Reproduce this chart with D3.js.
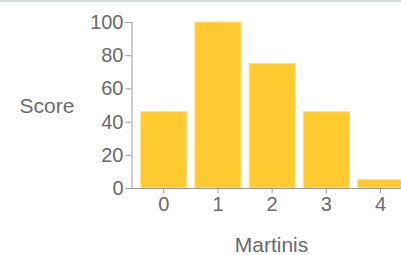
<!DOCTYPE html>
<html>
<head>
  <script src="https://d3js.org/d3.v7.min.js"></script>
  <style>
    body {
      margin: 0;
      background-color: #fff;
    }
    #chart {
      display: block;
      border-top: 2px solid #d3dcdf;
    }
    .axis path, .axis line {
      stroke: #999;
    }
    .axis text {
      fill: #6a6a6a;
      font-size: 20px;
      font-family: "Liberation Sans", Arial, sans-serif;
    }
    .label {
      fill: #6a6a6a;
      font-size: 21px;
      font-family: "Liberation Sans", Arial, sans-serif;
    }
    .bar {
      fill: #ffc930;
      stroke: #ffe083;
      stroke-width: 1;
    }
  </style>
</head>
<body>
  <svg id="chart" width="401" height="253"></svg>
  <script>
    const martinis = ['0', '1', '2', '3', '4'];
    const scores = [46, 100, 75, 46, 5];
    const yTicks = [0, 20, 40, 60, 80, 100];

    const data = martinis.map((m, i) => ({ martinis: m, score: scores[i] }));

    const svg = d3.select('#chart');
    // svg sits under the 2px top border, so shift coords up by 2
    const g = svg.append('g').attr('transform', 'translate(0,-2)');

    const plotLeft = 131.5, plotTop = 22, plotBottom = 188;

    const x = d3.scaleBand()
      .domain(martinis)
      .range([plotLeft, plotLeft + 281.3])
      .paddingInner(0.15)
      .paddingOuter(0.17);

    const y = d3.scaleLinear()
      .domain([0, 100])
      .range([plotBottom, plotTop]);

    g.selectAll('.bar')
      .data(data)
      .enter()
      .append('rect')
      .attr('class', 'bar')
      .attr('x', d => x(d.martinis))
      .attr('width', x.bandwidth())
      .attr('y', d => y(d.score))
      .attr('height', d => plotBottom - y(d.score));

    g.append('g')
      .attr('class', 'axis')
      .attr('transform', `translate(0, ${plotBottom})`)
      .call(d3.axisBottom(x).tickSize(5).tickSizeOuter(0).tickPadding(4));

    g.append('g')
      .attr('class', 'axis')
      .attr('transform', `translate(${plotLeft}, 0)`)
      .call(d3.axisLeft(y).tickValues(yTicks).tickSize(6).tickPadding(2));

    g.append('text')
      .attr('class', 'label')
      .attr('x', 47)
      .attr('y', 106)
      .attr('dy', '0.35em')
      .attr('text-anchor', 'middle')
      .text('Score');

    g.append('text')
      .attr('class', 'label')
      .attr('x', 271.5)
      .attr('y', 245)
      .attr('dy', '0.35em')
      .attr('text-anchor', 'middle')
      .text('Martinis');
  </script>
</body>
</html>
